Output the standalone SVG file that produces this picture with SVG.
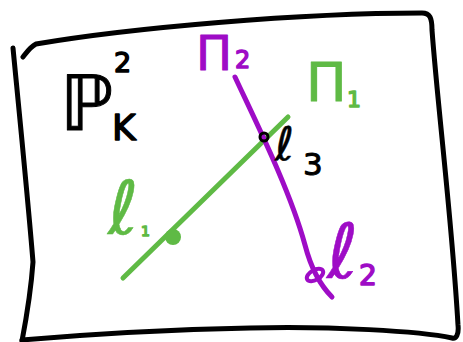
<svg xmlns="http://www.w3.org/2000/svg" width="463" height="342" viewBox="0 0 463 342">
  <style>
    .frame { fill: none; stroke: #000; stroke-width: 5; stroke-linecap: round; stroke-linejoin: round; }
    .ln { fill: none; stroke-width: 5; stroke-linecap: round; stroke-linejoin: round; }
    .g { stroke: #5fba45; }
    .p { stroke: #9e0cc6; }
    .t { font-family: "DejaVu Sans", "Liberation Sans", sans-serif; stroke-linejoin: round; }
    .tg { fill: #5fba45; stroke: #5fba45; }
    .tp { fill: #9e0cc6; stroke: #9e0cc6; }
    .tk { fill: #000; stroke: #000; }
  </style>
  <rect width="463" height="342" fill="#fff"/>
  <g id="frame">
    <path class="frame" d="M 23,57 C 27,52 30,47 36,44 C 130,28 300,13 422,13 C 430,13 432,18 432,30 C 438,110 452,220 458,325 C 459,335 456,339 452,338 C 420,331 330,326 250,328 C 150,330 80,335 22,340"/>
    <path class="frame" d="M 13,48 C 18,100 28,200 33,262 C 31,290 26,320 22,341"/>
  </g>
  <g id="connectors">
    <path id="line-l1" class="ln g" d="M 123,278 L 288,117"/>
    <path id="line-l2" class="ln p" d="M 235,77 C 255,120 290,190 305,245 C 311,268 320,285 332,297"/>
  </g>
  <g id="node-p1">
    <circle cx="173" cy="237" r="8" fill="#5fba45"/>
  </g>
  <g id="node-p2">
    <ellipse cx="315" cy="275" rx="9" ry="5" transform="rotate(-30 315 275)" fill="none" stroke="#9e0cc6" stroke-width="4"/>
  </g>
  <g id="node-p3">
    <circle cx="264" cy="137" r="4" fill="none" stroke="#000" stroke-width="3"/>
  </g>
  <g id="label-P2K">
    <text class="t tk" x="60" y="130" font-size="76" stroke-width="1">ℙ</text>
    <text class="t tk" x="114" y="72" font-size="27" stroke-width="1.5">2</text>
    <text class="t tk" x="112" y="140" font-size="36" stroke-width="1.5">K</text>
  </g>
  <g id="label-Pi2">
    <text class="t tp" x="196" y="70" font-size="48" stroke-width="1">Π</text>
    <text class="t tp" x="235" y="68" font-size="24" stroke-width="1.5">2</text>
  </g>
  <g id="label-Pi1">
    <text class="t tg" x="306" y="101" font-size="54" stroke-width="1">Π</text>
    <text class="t tg" x="347" y="107" font-size="22" stroke-width="1.5">1</text>
  </g>
  <g id="label-l1">
    <text class="t tg" x="108" y="234" font-size="74" stroke-width="0.5">ℓ</text>
    <text class="t tg" x="141" y="236" font-size="14" stroke-width="1.5">1</text>
  </g>
  <g id="label-l2">
    <text class="t tp" x="327" y="278" font-size="76" stroke-width="0.5">ℓ</text>
    <text class="t tp" x="359" y="285" font-size="28" stroke-width="1.5">2</text>
  </g>
  <g id="label-l3">
    <text class="t tk" x="275" y="160" font-size="46" stroke-width="0.5">ℓ</text>
    <text class="t tk" x="303" y="175" font-size="31" stroke-width="1">3</text>
  </g>
</svg>
